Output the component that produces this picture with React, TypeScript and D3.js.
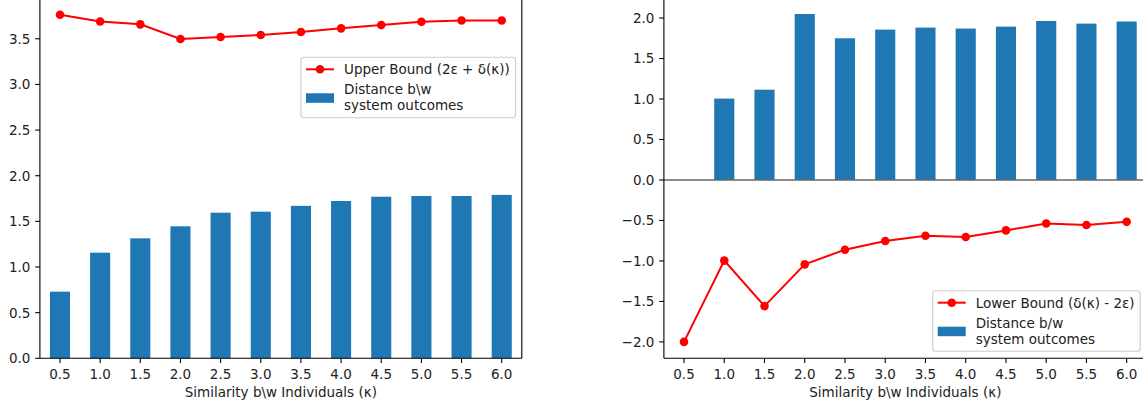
import React from "react";
import * as d3 from "d3";

const categories = ["0.5", "1.0", "1.5", "2.0", "2.5", "3.0", "3.5", "4.0", "4.5", "5.0", "5.5", "6.0"];
const leftBars = [0.73, 1.157, 1.314, 1.446, 1.595, 1.606, 1.67, 1.723, 1.77, 1.778, 1.778, 1.79];
const upperBound = [3.763, 3.69, 3.658, 3.497, 3.519, 3.541, 3.574, 3.614, 3.651, 3.687, 3.70, 3.70];
const rightBars = [0.0, 1.005, 1.115, 2.05, 1.75, 1.857, 1.882, 1.87, 1.894, 1.964, 1.931, 1.957];
const lowerBound = [-2.0, -0.996, -1.558, -1.042, -0.861, -0.754, -0.689, -0.705, -0.623, -0.537, -0.557, -0.517];
const leftYTicks = [0, 0.5, 1, 1.5, 2, 2.5, 3, 3.5];
const rightYTicks = [-2, -1.5, -1, -0.5, 0, 0.5, 1, 1.5, 2];
const xLabel = "Similarity b\\w Individuals (κ)";

const FONT = "DejaVu Sans, sans-serif";
const FS = 13.5;
const BAR = "#1f77b4";
const RED = "#ff0000";
const TOP = -2.4;
const BOTTOM = 358.3;

const fmt = (v: number) => (v < 0 ? "\u2212" + Math.abs(v).toFixed(1) : v.toFixed(1));

type PanelProps = {
  x0: number;
  x1: number;
  domain: [number, number];
  yTicks: number[];
  bars: number[];
  line: number[];
  zeroLine: boolean;
  legend: { x: number; y: number; w: number; h: number; lineLabel: string; barLabel: string[] };
};

function Panel({ x0, x1, domain, yTicks, bars, line, zeroLine, legend }: PanelProps) {
  const x = d3.scaleBand<string>().domain(categories).range([x0, x1]).paddingInner(0.5).paddingOuter(0.25);
  const y = d3.scaleLinear().domain(domain).range([BOTTOM, TOP]);
  const bw = x.bandwidth();
  const cx = (c: string) => (x(c) as number) + bw / 2;
  const lineGen = d3
    .line<number>()
    .x((_, i) => cx(categories[i]))
    .y((d) => y(d));
  const tickLen = 4.7;
  const lx = legend.x;
  const ly = legend.y;
  return (
    <g>
      {bars.map((v, i) => {
        const c = categories[i];
        const ya = y(Math.max(0, v));
        const yb = y(Math.min(0, v));
        return <rect key={c} x={x(c)} y={ya} width={bw} height={Math.max(0, yb - ya)} fill={BAR} />;
      })}
      {zeroLine && <line x1={x0} x2={x1} y1={y(0)} y2={y(0)} stroke="#666" strokeWidth={1.6} />}
      <path d={lineGen(line) || ""} fill="none" stroke={RED} strokeWidth={2} />
      {line.map((v, i) => (
        <circle key={i} cx={cx(categories[i])} cy={y(v)} r={4.3} fill={RED} />
      ))}
      {/* spines */}
      <line x1={x0} x2={x0} y1={TOP} y2={BOTTOM} stroke="#000" strokeWidth={1.1} />
      <line x1={x1} x2={x1} y1={TOP} y2={BOTTOM} stroke="#000" strokeWidth={1.1} />
      <line x1={x0} x2={x1} y1={BOTTOM} y2={BOTTOM} stroke="#000" strokeWidth={1.1} />
      {/* y ticks */}
      {yTicks.map((t) => (
        <g key={t}>
          <line x1={x0 - tickLen} x2={x0} y1={y(t)} y2={y(t)} stroke="#000" strokeWidth={1.1} />
          <text x={x0 - 9.5} y={y(t)} dy="0.36em" textAnchor="end" fontFamily={FONT} fontSize={FS} fill="#222">
            {fmt(t)}
          </text>
        </g>
      ))}
      {/* x ticks */}
      {categories.map((c) => (
        <g key={c}>
          <line x1={cx(c)} x2={cx(c)} y1={BOTTOM} y2={BOTTOM + tickLen} stroke="#000" strokeWidth={1.1} />
          <text x={cx(c)} y={379} textAnchor="middle" fontFamily={FONT} fontSize={FS} fill="#222">
            {c}
          </text>
        </g>
      ))}
      <text x={(x0 + x1) / 2} y={397} textAnchor="middle" fontFamily={FONT} fontSize={FS} fill="#222">
        {xLabel}
      </text>
      {/* legend */}
      <rect x={lx} y={ly} width={legend.w} height={legend.h} rx={3} fill="#fff" fillOpacity={0.8} stroke="#cccccc" strokeWidth={1.1} />
      <line x1={lx + 5} x2={lx + 33} y1={ly + 12} y2={ly + 12} stroke={RED} strokeWidth={2} />
      <circle cx={lx + 19} cy={ly + 12} r={4.3} fill={RED} />
      <text x={lx + 43} y={ly + 12} dy="0.36em" fontFamily={FONT} fontSize={FS} fill="#222">
        {legend.lineLabel}
      </text>
      <rect x={lx + 5} y={ly + 36} width={28} height={9.5} fill={BAR} />
      <text x={lx + 43} y={ly + 32} dy="0.36em" fontFamily={FONT} fontSize={FS} fill="#222">
        {legend.barLabel[0]}
      </text>
      <text x={lx + 43} y={ly + 48} dy="0.36em" fontFamily={FONT} fontSize={FS} fill="#222">
        {legend.barLabel[1]}
      </text>
    </g>
  );
}

export default function App() {
  return (
    <div style={{ position: "absolute", left: 0, top: 0 }}>
      <svg width={1143} height={406} style={{ display: "block", background: "#fff" }}>
        <Panel
          x0={39.9}
          x1={521.8}
          domain={[0, 3.951]}
          yTicks={leftYTicks}
          bars={leftBars}
          line={upperBound}
          zeroLine={false}
          legend={{ x: 301, y: 57.3, w: 214.5, h: 60.5, lineLabel: "Upper Bound (2ε + δ(κ))", barLabel: ["Distance b\\w", "system outcomes"] }}
        />
        <Panel
          x0={663.9}
          x1={1146.8}
          domain={[-2.2025, 2.2525]}
          yTicks={rightYTicks}
          bars={rightBars}
          line={lowerBound}
          zeroLine={true}
          legend={{ x: 932.7, y: 290.7, w: 207.5, h: 60.5, lineLabel: "Lower Bound (δ(κ) - 2ε)", barLabel: ["Distance b/w", "system outcomes"] }}
        />
      </svg>
    </div>
  );
}
